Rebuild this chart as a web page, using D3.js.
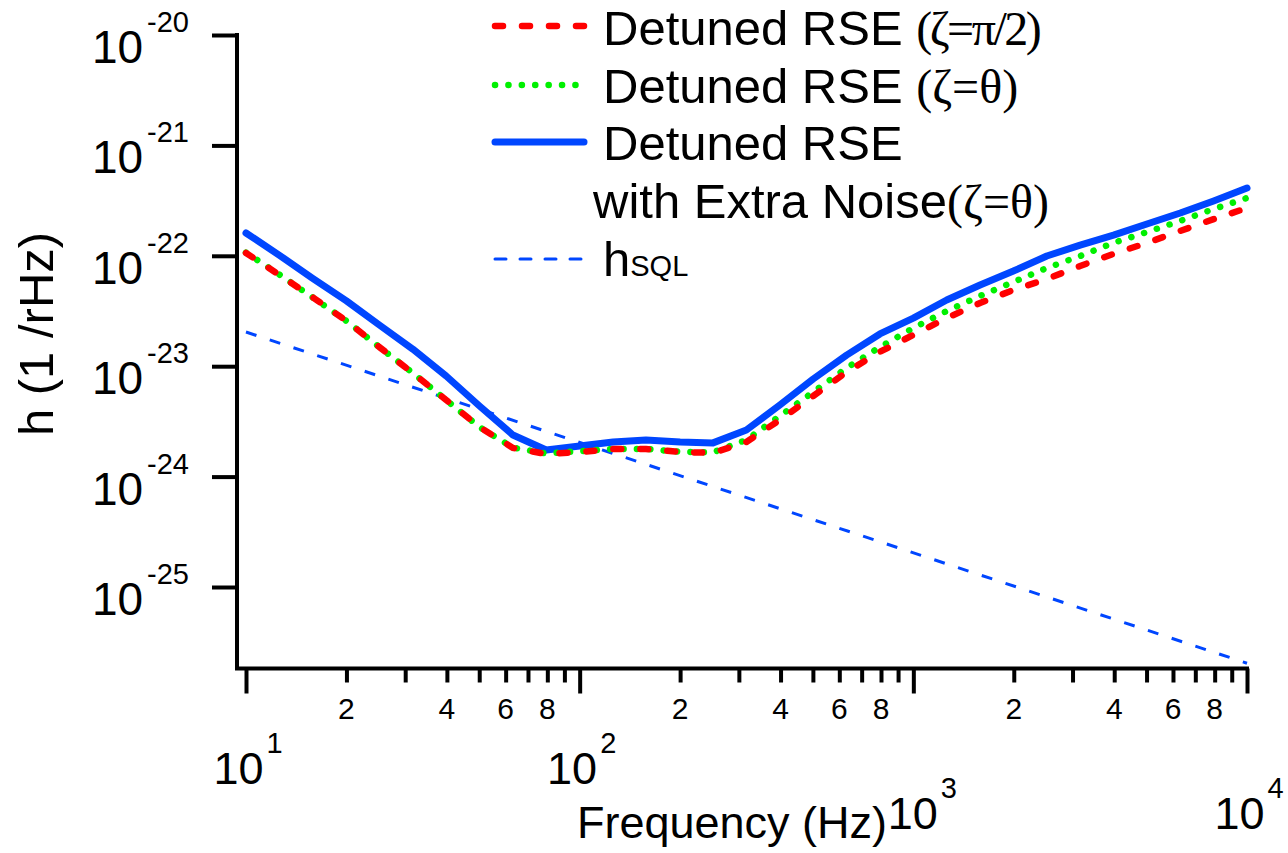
<!DOCTYPE html>
<html>
<head>
<meta charset="utf-8">
<script src="https://cdn.jsdelivr.net/npm/d3@7"></script>
<style>
  body { margin: 0; background: #fff; }
  svg { display: block; }
  text { font-family: "Liberation Sans", Arial, sans-serif; fill: #000; }
  .serif { font-family: "Liberation Serif", "Times New Roman", serif; }
</style>
</head>
<body>
<svg width="1288" height="853"></svg>
<script>
// frequencies (Hz), 10 per decade
const freq = [10, 12.6, 15.8, 20, 25.1, 31.6, 39.8, 50.1, 63.1, 79.4,
  100, 126, 158, 200, 251, 316, 398, 501, 631, 794,
  1000, 1259, 1585, 1995, 2512, 3162, 3981, 5012, 6310, 7943, 10000];

// Detuned RSE (zeta = pi/2)
const rsePi2 = [1.06e-22, 6.70e-23, 4.24e-23, 2.57e-23, 1.49e-23, 8.68e-24, 4.94e-24, 2.81e-24, 1.82e-24, 1.60e-24,
  1.67e-24, 1.78e-24, 1.78e-24, 1.67e-24, 1.64e-24, 2.06e-24, 3.26e-24, 5.37e-24, 8.86e-24, 1.35e-23,
  1.92e-23, 2.73e-23, 3.74e-23, 4.90e-23, 6.16e-23, 8.09e-23, 1.04e-22, 1.31e-22, 1.68e-22, 2.15e-22, 2.71e-22];

// Detuned RSE (zeta = theta)
const rseTheta = [1.07e-22, 6.75e-23, 4.22e-23, 2.57e-23, 1.49e-23, 8.70e-24, 4.94e-24, 2.81e-24, 1.83e-24, 1.62e-24,
  1.70e-24, 1.78e-24, 1.78e-24, 1.68e-24, 1.66e-24, 2.15e-24, 3.54e-24, 5.83e-24, 9.64e-24, 1.49e-23,
  2.22e-23, 3.16e-23, 4.33e-23, 5.79e-23, 7.75e-23, 9.95e-23, 1.31e-22, 1.64e-22, 2.07e-22, 2.65e-22, 3.34e-22];

// Detuned RSE with extra noise (zeta = theta)
const rseExtra = [1.61e-22, 1.01e-22, 6.29e-23, 3.90e-23, 2.36e-23, 1.43e-23, 8.15e-24, 4.36e-24, 2.38e-24, 1.74e-24,
  1.89e-24, 2.06e-24, 2.15e-24, 2.06e-24, 2.02e-24, 2.64e-24, 4.45e-24, 7.66e-24, 1.26e-23, 1.96e-23,
  2.73e-23, 3.98e-23, 5.44e-23, 7.28e-23, 9.95e-23, 1.25e-22, 1.54e-22, 1.94e-22, 2.44e-22, 3.14e-22, 4.11e-22];

// standard quantum limit
const sqlFreq = [10, 10000];
const sqlH = [2.04e-23, 2.04e-26];

const majorX = [10, 100, 1000, 10000];
const majorXExp = ["1", "2", "3", "4"];
const minorX = [20, 30, 40, 50, 60, 70, 80, 90, 200, 300, 400, 500, 600, 700, 800, 900,
  2000, 3000, 4000, 5000, 6000, 7000, 8000, 9000];
const minorLabelDigits = [2, 4, 6, 8];
const yTicks = [1e-20, 1e-21, 1e-22, 1e-23, 1e-24, 1e-25];
const yTickExp = ["-20", "-21", "-22", "-23", "-24", "-25"];

const svg = d3.select("svg");
const x = d3.scaleLog().domain([10, 10000]).range([246, 1247]);
const y = d3.scaleLog().domain([1e-25, 1e-20]).range([587, 35]);
const axisY = 668.5, axisX = 237;

const blue = "#0046ff", red = "#ff0000", green = "#00f000";

// x axis ticks
const xMaj = svg.append("g").attr("transform", `translate(0,${axisY})`)
  .call(d3.axisBottom(x).tickValues(majorX).tickSize(25).tickFormat(""));
const xMin = svg.append("g").attr("transform", `translate(0,${axisY})`)
  .call(d3.axisBottom(x).tickValues(minorX).tickSize(14).tickFormat(""));
const yAx = svg.append("g").attr("transform", `translate(${axisX},0)`)
  .call(d3.axisLeft(y).tickValues(yTicks).tickSize(25).tickFormat(""));
[xMaj, xMin, yAx].forEach(g => {
  g.select(".domain").remove();
  g.selectAll(".tick line").attr("stroke", "#000").attr("stroke-width", 4);
});
// frame lines
svg.append("path")
  .attr("d", `M${axisX},33V${axisY}H1249`)
  .attr("fill", "none").attr("stroke", "#000").attr("stroke-width", 4);

// minor tick labels (2,4,6,8 in each decade)
const minorLab = [];
majorX.slice(0, 3).forEach(d => minorLabelDigits.forEach(m => minorLab.push({v: d * m, t: m})));
svg.selectAll(".minlab").data(minorLab).join("text")
  .attr("class", "minlab")
  .attr("x", d => x(d.v)).attr("y", 719)
  .attr("text-anchor", "middle").attr("font-size", 30)
  .text(d => d.t);

// major x labels, 10^n (last two sit lower)
majorX.forEach((v, i) => {
  const t = svg.append("text")
    .attr("x", x(v) + (i === 2 ? 9 : 2)).attr("y", i < 2 ? 784 : 829)
    .attr("text-anchor", "middle").attr("font-size", 45);
  t.append("tspan").text("10");
  t.append("tspan").attr("font-size", 29).attr("dy", -31).attr("dx", 3).text(majorXExp[i]);
});

// y labels 10^-n
yTicks.forEach((v, i) => {
  const t = svg.append("text")
    .attr("x", 189).attr("y", y(v) + 28)
    .attr("text-anchor", "end").attr("font-size", 46);
  t.append("tspan").text("10");
  t.append("tspan").attr("font-size", 29).attr("dy", -31).attr("dx", 4).text(yTickExp[i]);
});

// axis titles
svg.append("text").attr("x", 732).attr("y", 838)
  .attr("text-anchor", "middle").attr("font-size", 45).text("Frequency (Hz)");
svg.append("text")
  .attr("transform", "translate(53,334) rotate(-90)")
  .attr("text-anchor", "middle").attr("font-size", 49).text("h (1 /rHz)");

// curves
const line = d3.line().x(d => x(d[0])).y(d => y(d[1]));
const zip = (a, b) => a.map((v, i) => [v, b[i]]);

svg.append("path").datum(zip(sqlFreq, sqlH)).attr("d", line)
  .attr("fill", "none").attr("stroke", blue).attr("stroke-width", 3)
  .attr("stroke-dasharray", "11 14");
svg.append("path").datum(zip(freq, rseExtra)).attr("d", line)
  .attr("fill", "none").attr("stroke", blue).attr("stroke-width", 7)
  .attr("stroke-linejoin", "round").attr("stroke-linecap", "round");
svg.append("path").datum(zip(freq, rseTheta)).attr("d", line)
  .attr("fill", "none").attr("stroke", green).attr("stroke-width", 6.5)
  .attr("stroke-dasharray", "0.1 13.3").attr("stroke-linecap", "round");
svg.append("path").datum(zip(freq, rsePi2)).attr("d", line)
  .attr("fill", "none").attr("stroke", red).attr("stroke-width", 6.5)
  .attr("stroke-dasharray", "8 19").attr("stroke-linecap", "round");

// legend
const legend = svg.append("g");
const sample = (yy, color, w, dash) => legend.append("line")
  .attr("x1", 495).attr("x2", 584).attr("y1", yy).attr("y2", yy)
  .attr("stroke", color).attr("stroke-width", w)
  .attr("stroke-dasharray", dash).attr("stroke-linecap", "round");
sample(26, red, 6.5, "8 19");
sample(85, green, 6.5, "0.1 13.3");
sample(142, blue, 7, null);
sample(259, blue, 3, "11 14");

const legText = (xx, yy, sans, serif, spacing) => {
  const t = legend.append("text").attr("x", xx).attr("y", yy).attr("font-size", 49);
  t.append("tspan").text(sans);
  if (serif) t.append("tspan").attr("class", "serif").attr("font-size", 48)
    .attr("letter-spacing", spacing || 0).text(serif);
  return t;
};
legText(603, 45, "Detuned RSE ", "(ζ=π/2)", -2.5);
legText(603, 103, "Detuned RSE ", "(ζ=θ)");
legText(603, 160, "Detuned RSE", null);
legText(593, 218, "with Extra Noise", "(ζ=θ)");
const hs = legText(603, 276, "h", null);
hs.append("tspan").attr("font-size", 29).text("SQL");
</script>
</body>
</html>
